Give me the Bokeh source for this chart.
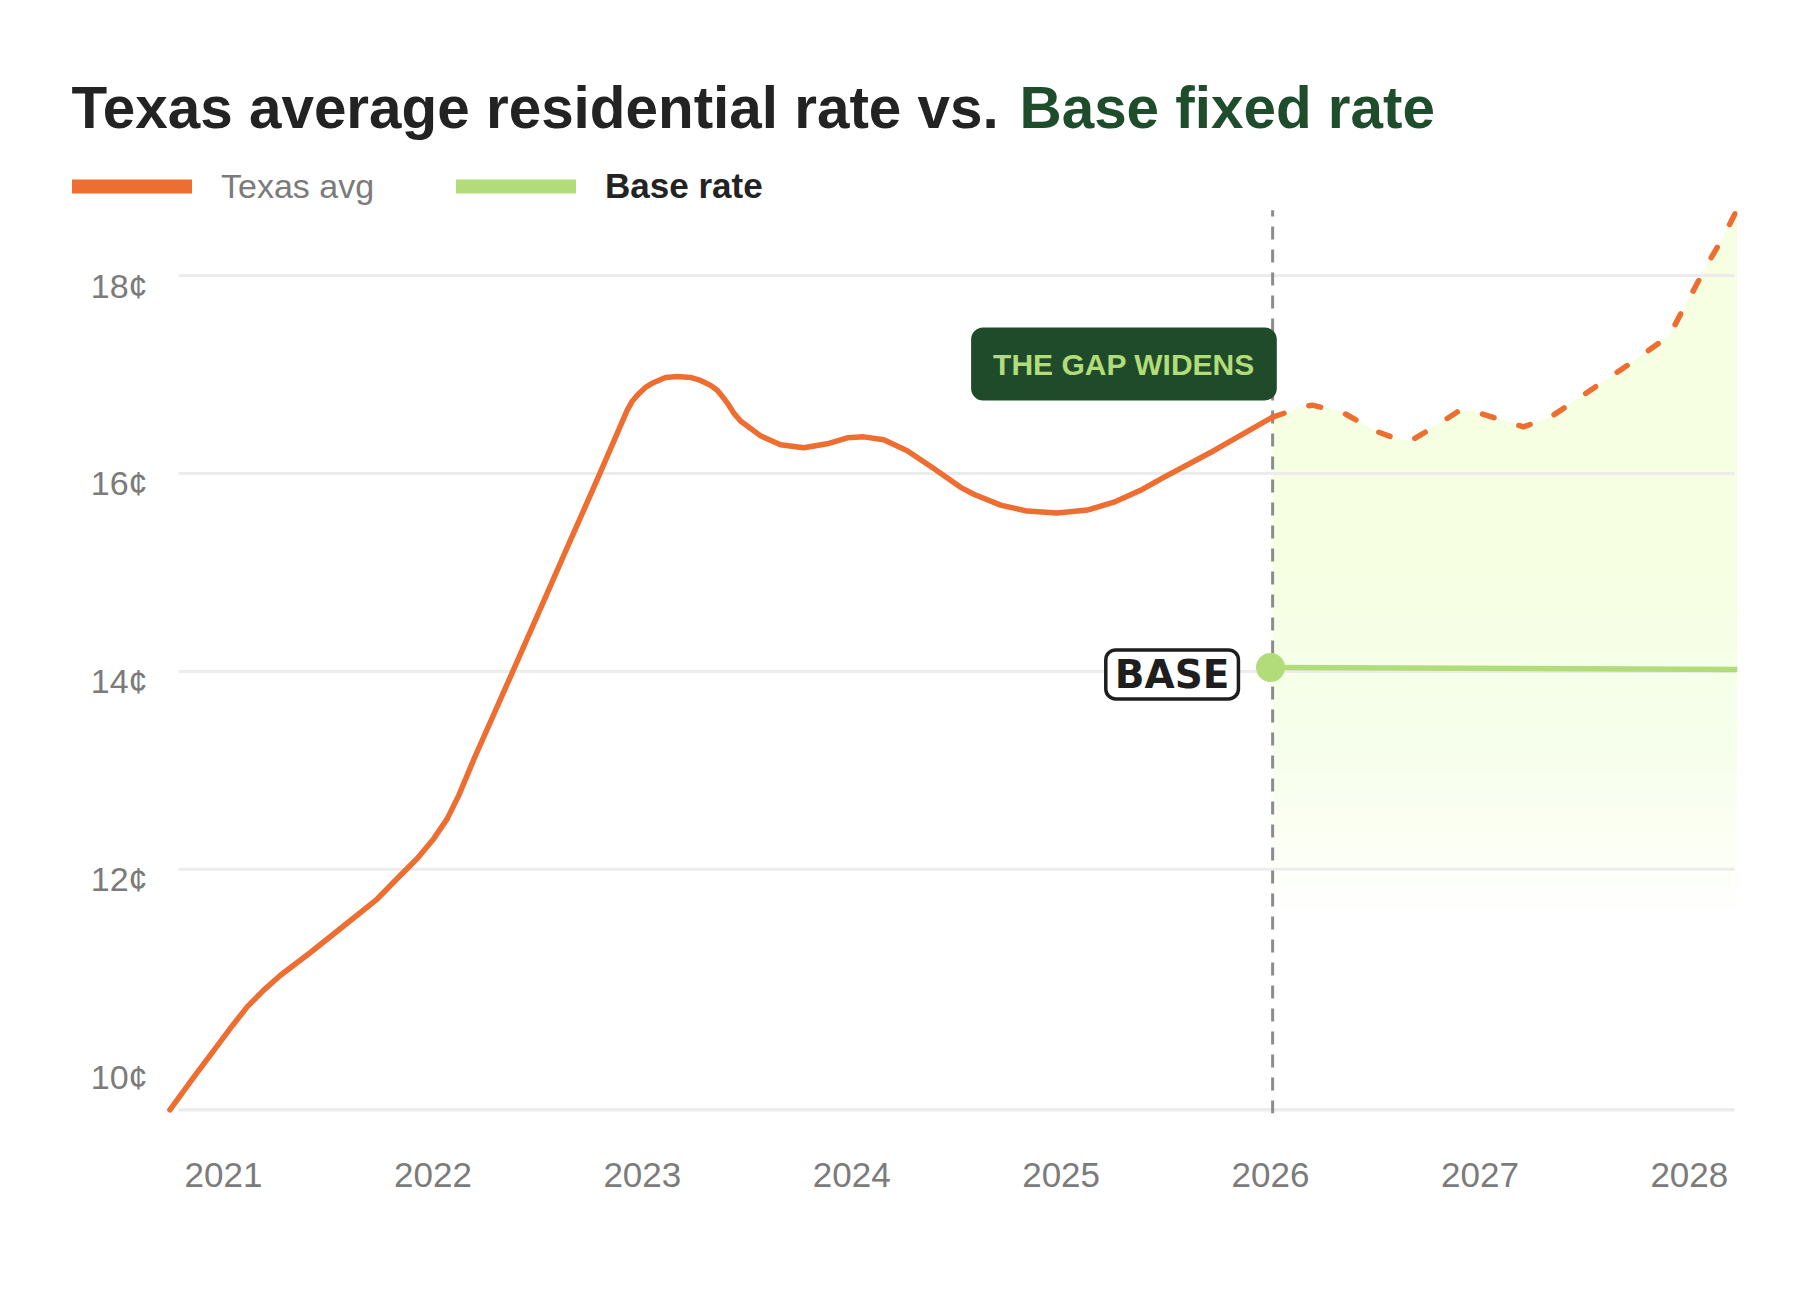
import numpy as np
from bokeh.plotting import figure
from bokeh.models import FixedTicker, Label, Legend, LegendItem, Range1d
from bokeh.core.properties import value
from bokeh.embed import file_html
from bokeh.resources import INLINE

# ---------------- data ----------------
years_actual = [2020.744, 2020.858, 2020.954, 2021.042, 2021.113, 2021.192, 2021.272, 2021.415,
                2021.575, 2021.734, 2021.845, 2021.925, 2022.004, 2022.068, 2022.124, 2022.195,
                2022.371, 2022.546, 2022.641, 2022.785, 2022.928, 2022.952, 2022.976, 2023.015,
                2023.055, 2023.111, 2023.167, 2023.230, 2023.278, 2023.326, 2023.358, 2023.389,
                2023.413, 2023.437, 2023.469, 2023.565, 2023.66, 2023.771, 2023.883,
                2023.979, 2024.058, 2024.153, 2024.265, 2024.392, 2024.52, 2024.583, 2024.711,
                2024.838, 2024.981, 2025.125, 2025.252, 2025.379, 2025.49, 2025.729, 2026.01]
rate_actual = [9.57, 9.90, 10.17, 10.42, 10.61, 10.78, 10.93, 11.16,
               11.43, 11.70, 11.94, 12.11, 12.31, 12.51, 12.75, 13.11,
               13.95, 14.79, 15.25, 15.94, 16.64, 16.73, 16.79, 16.87,
               16.92, 16.97, 16.98, 16.97, 16.94, 16.89, 16.84, 16.76,
               16.69, 16.61, 16.53, 16.38, 16.29, 16.26, 16.30,
               16.36, 16.37, 16.34, 16.23, 16.05, 15.86, 15.79, 15.68,
               15.62, 15.60, 15.63, 15.71, 15.83, 15.96, 16.23, 16.57]

years_forecast = [2026.01, 2026.166, 2026.199, 2026.342, 2026.50, 2026.629, 2026.678, 2026.788,
                  2026.898, 2026.965, 2027.134, 2027.208, 2027.337, 2027.471, 2027.597, 2027.724,
                  2027.85, 2027.909, 2027.958, 2028.01, 2028.077, 2028.162, 2028.229]
rate_forecast = [16.57, 16.68, 16.69, 16.62, 16.43, 16.33, 16.34, 16.48,
                 16.63, 16.63, 16.52, 16.47, 16.57, 16.76, 16.94, 17.12,
                 17.31, 17.41, 17.61, 17.81, 18.08, 18.39, 18.67]

base_years = [2026.0, 2028.23]
base_rate = [14.04, 14.02]

split_year = 2026.01

x_ticks = [2021, 2022, 2023, 2024, 2025, 2026, 2027, 2028]
x_tick_labels = ["2021", "2022", "2023", "2024", "2025", "2026", "2027", "2028"]
y_ticks = [10, 12, 14, 16, 18]
y_tick_labels = ["10¢", "12¢", "14¢", "16¢", "18¢"]
grid_levels = [12, 14, 16, 18]

series_names = ["Texas avg", "Base rate"]
title_main = "Texas average residential rate vs."
title_accent = "Base fixed rate"
callout_text = "THE GAP WIDENS"
logo_text = "BASE"

# ---------------- style ----------------
ORANGE = "#ee6d30"
GREEN = "#b2dc79"
DARK_GREEN = "#1f4b2b"
TITLE_GREEN = "#1e4d2b"
DARK = "#232323"
GRAY = "#7b7b7b"
GRID = "#ececec"
FILL = "#f3fce6"
FONT = "Liberation Sans"

# plotting extents (layout only)
X_LO, X_HI = 2019.935, 2028.23      # frame spans the whole canvas width
Y_LO, Y_HI = 9.533, 20.779          # frame spans from the top of the canvas
GRID_X0, GRID_X1 = 2020.785, 2028.216
BASELINE = 9.57
SPLIT_TOP = 18.66
LABEL_X = 2020.637
FRAME_H = 1113

p = figure(frame_width=1737, frame_height=FRAME_H,
           min_border_left=0, min_border_right=58, min_border_top=0, min_border_bottom=181,
           x_range=Range1d(X_LO, X_HI), y_range=Range1d(Y_LO, Y_HI),
           y_axis_location=None,
           output_backend="svg", toolbar_location=None,
           outline_line_color=None, background_fill_color="white", border_fill_color="white")
p.xgrid.visible = False
p.ygrid.visible = False

# fading fill under the forecast
fx = np.array(years_forecast)
fy = np.array(rate_forecast)
for lv in np.linspace(11.6, 17.0, 28):
    p.varea(x=fx, y1=np.minimum(fy, lv), y2=fy, fill_color=FILL, fill_alpha=0.1)

# grid lines, baseline and split marker
n = len(grid_levels)
p.segment(x0=[GRID_X0] * n, y0=grid_levels, x1=[GRID_X1] * n, y1=grid_levels,
          line_color=GRID, line_width=3)
p.segment(x0=[GRID_X0], y0=[BASELINE], x1=[GRID_X1], y1=[BASELINE],
          line_color=GRID, line_width=3.5)
p.segment(x0=[split_year], y0=[Y_LO], x1=[split_year], y1=[SPLIT_TOP],
          line_color="#8c8c8c", line_width=3, line_dash="13 10")

# series
p.line(years_actual, rate_actual, line_color=ORANGE, line_width=5.5,
       line_join="round", line_cap="round")
p.line(years_forecast, rate_forecast, line_color=ORANGE, line_width=5.5,
       line_dash="12 26", line_join="round", line_cap="round")
p.line(base_years, base_rate, line_color=GREEN, line_width=5.5)
p.scatter([base_years[0]], [base_rate[0]], size=29, fill_color=GREEN, line_color=None)

# y tick labels
p.text(x=[LABEL_X] * len(y_ticks), y=y_ticks, text=y_tick_labels,
       text_align="right", text_baseline="middle", y_offset=10,
       text_font=value(FONT), text_font_size="34px", text_color=GRAY)

# x axis
xa = p.xaxis[0]
xa.ticker = FixedTicker(ticks=x_ticks)
xa.major_label_overrides = dict(zip(x_ticks, x_tick_labels))
xa.major_tick_line_color = None
xa.minor_tick_line_color = None
xa.axis_line_color = None
xa.major_label_standoff = 43
xa.major_label_text_font = FONT
xa.major_label_text_font_size = "35px"
xa.major_label_text_color = GRAY

# title
TITLE_Y = FRAME_H - 107
p.add_layout(Label(x=71, y=TITLE_Y, x_units="screen", y_units="screen", text=title_main,
                   text_font=FONT, text_font_style="bold", text_font_size="58.4px",
                   text_color=DARK, text_baseline="alphabetic"))
p.add_layout(Label(x=1019, y=TITLE_Y, x_units="screen", y_units="screen",
                   text=title_accent, text_font=FONT, text_font_style="bold",
                   text_font_size="58.4px", text_color=TITLE_GREEN, text_baseline="alphabetic"))

# legends (two, for two label styles); swatch renderers hold one NaN point
r1 = p.line(x=np.array([np.nan]), y=np.array([np.nan]), line_color=ORANGE, line_width=14,
            line_cap="round")
r2 = p.line(x=np.array([np.nan]), y=np.array([np.nan]), line_color=GREEN, line_width=14,
            line_cap="round")
common = dict(orientation="horizontal", glyph_width=120, glyph_height=40, label_height=40,
              label_standoff=29, padding=0, margin=0, border_line_color=None,
              background_fill_alpha=0, label_text_font=FONT)
p.add_layout(Legend(items=[LegendItem(label=series_names[0], renderers=[r1])],
                    location=(72, FRAME_H - 206), label_text_font_size="34px",
                    label_text_color=GRAY, **common))
p.add_layout(Legend(items=[LegendItem(label=series_names[1], renderers=[r2])],
                    location=(456, FRAME_H - 206), label_text_font_size="35px",
                    label_text_color=DARK, label_text_font_style="bold", **common))

# callouts
p.add_layout(Label(x=2025.30, y=17.106, text=callout_text, text_align="center",
                   text_baseline="middle", text_font=FONT, text_font_style="bold",
                   text_font_size="30px", text_color=GREEN, background_fill_color=DARK_GREEN,
                   border_radius=12, padding=dict(left=22, right=22, top=20, bottom=20)))
p.add_layout(Label(x=2025.53, y=13.97, text=logo_text, text_align="center",
                   text_baseline="middle", text_font="DejaVu Sans", text_font_style="bold",
                   text_font_size="39px", text_color="#1e1e1e", background_fill_color="white",
                   border_line_color="#1e1e1e", border_line_width=3.5, border_radius=10,
                   padding=dict(left=9, right=9, top=2, bottom=2)))

open("out.html", "w").write(file_html(p, INLINE))
